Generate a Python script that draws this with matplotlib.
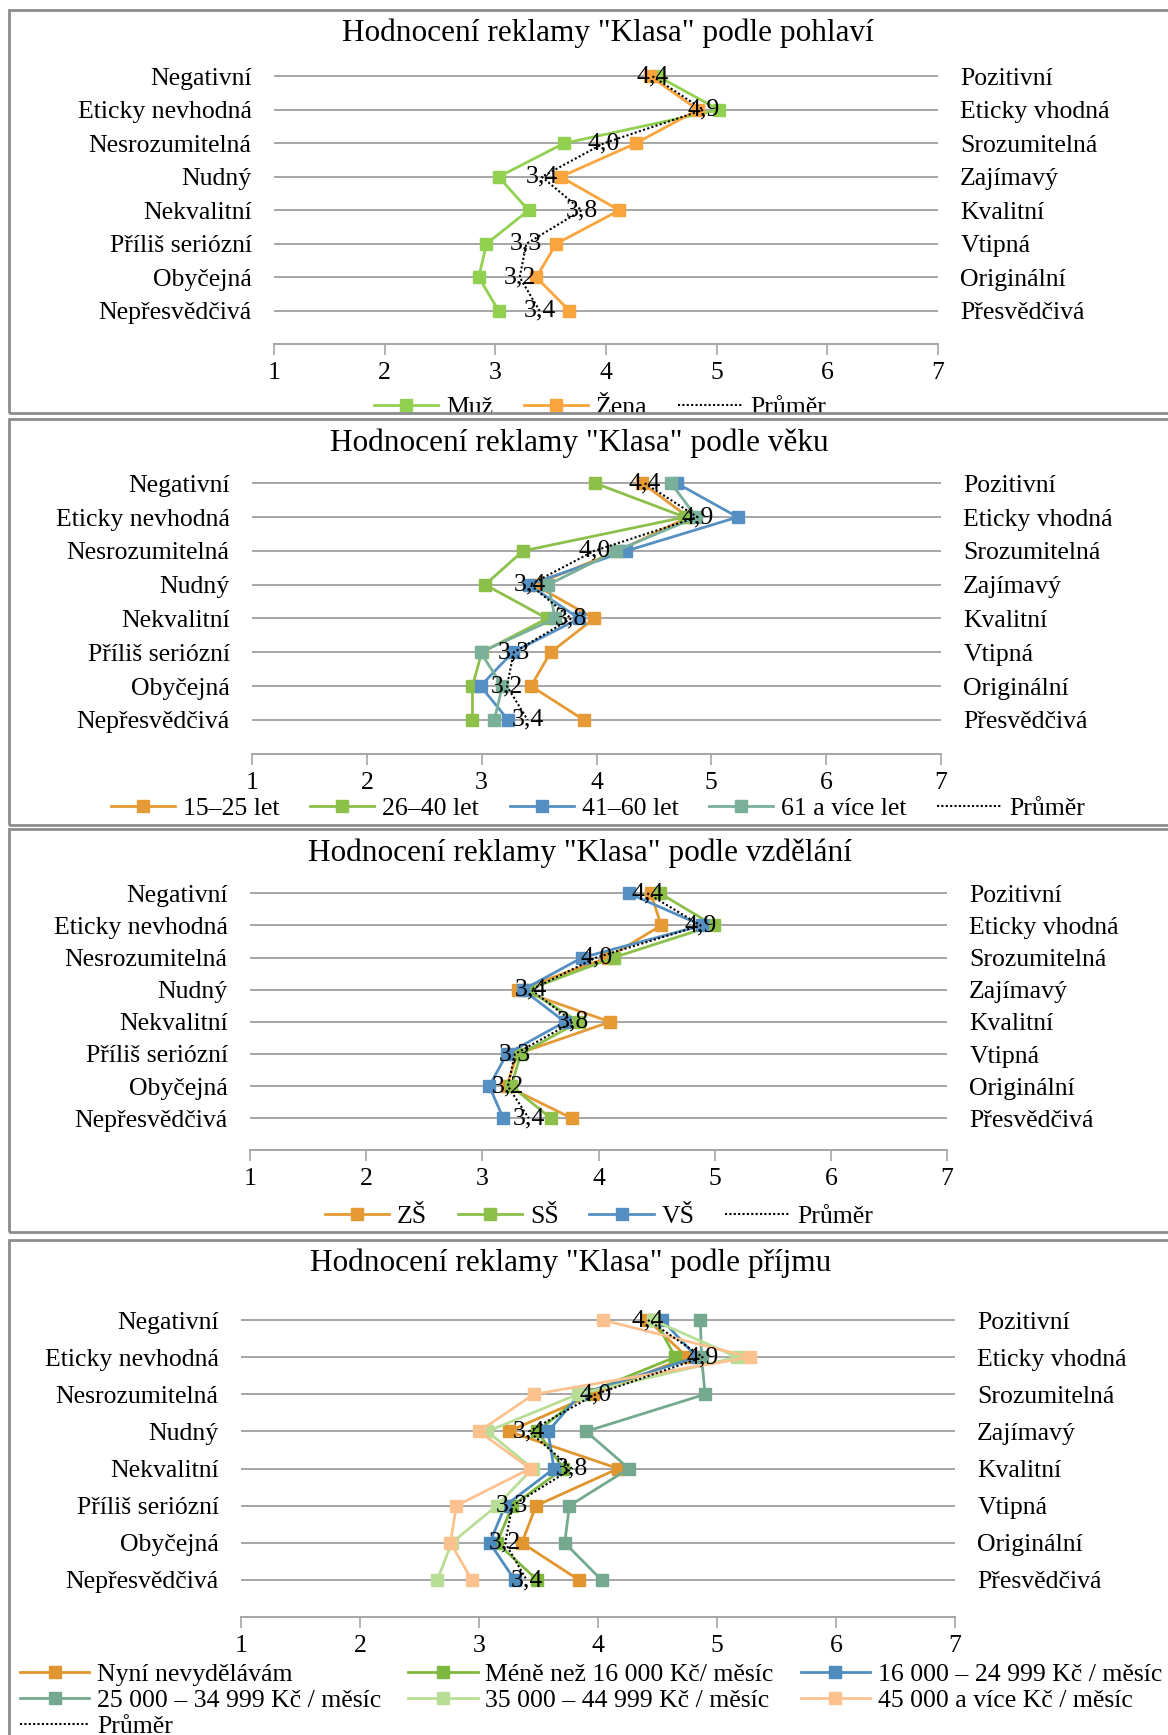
import matplotlib.pyplot as plt
from matplotlib.patches import Rectangle

# kategorie (levá a pravá strana škály)
kat_vlevo = ["Negativní", "Eticky nevhodná", "Nesrozumitelná", "Nudný",
             "Nekvalitní", "Příliš seriózní", "Obyčejná", "Nepřesvědčivá"]
kat_vpravo = ["Pozitivní", "Eticky vhodná", "Srozumitelná", "Zajímavý",
              "Kvalitní", "Vtipná", "Originální", "Přesvědčivá"]
osa_x = [1, 2, 3, 4, 5, 6, 7]

# průměr (stejný pro všechny grafy)
prumer = [4.42, 4.88, 3.98, 3.42, 3.78, 3.28, 3.22, 3.40]

# podle pohlaví
muz = [4.47, 5.02, 3.62, 3.03, 3.30, 2.92, 2.85, 3.03]
zena = [4.40, 4.83, 4.27, 3.59, 4.12, 3.55, 3.37, 3.67]

# podle věku
vek_15_25 = [4.40, 4.80, 4.19, 3.46, 3.98, 3.60, 3.43, 3.89]
vek_26_40 = [3.99, 4.77, 3.36, 3.03, 3.57, 3.00, 2.92, 2.92]
vek_41_60 = [4.70, 5.23, 4.26, 3.41, 3.85, 3.27, 2.99, 3.23]
vek_61 = [4.65, 4.87, 4.17, 3.58, 3.64, 2.99, 3.18, 3.11]

# podle vzdělání
zs = [4.45, 4.54, 4.08, 3.31, 4.10, 3.30, 3.21, 3.77]
ss = [4.53, 4.99, 4.13, 3.39, 3.83, 3.33, 3.25, 3.59]
vs = [4.26, 4.89, 3.86, 3.35, 3.71, 3.21, 3.06, 3.18]

# podle příjmu
nyni = [4.42, 4.75, 3.96, 3.25, 4.17, 3.48, 3.36, 3.84]
mene16 = [4.48, 4.65, 3.88, 3.49, 3.71, 3.28, 3.15, 3.49]
prijem_16_25 = [4.54, 4.83, 3.85, 3.58, 3.63, 3.22, 3.09, 3.30]
prijem_25_35 = [4.86, 4.87, 4.90, 3.90, 4.26, 3.76, 3.72, 4.03]
prijem_35_45 = [4.46, 5.17, 3.83, 3.07, 3.45, 3.15, 2.77, 2.65]
prijem_45 = [4.04, 5.28, 3.46, 3.00, 3.43, 2.81, 2.76, 2.94]

plt.rcParams['font.family'] = ['Liberation Serif', 'DejaVu Serif']

W, H = 1168, 1735
fig = plt.figure(figsize=(W / 100, H / 100), dpi=100)

seda = '#A6A6A6'
ramecek = '#8C8C8C'
fs = 18.5


def panel(x0, x1, y_row0, krok, titulek, tx, ty, serie, leg_xy, leg_kw, poradi=None):
    top = y_row0 - 0.5 * krok
    bot = y_row0 + 8.0 * krok
    ax = fig.add_axes([x0 / W, 1 - bot / H, (x1 - x0) / W, (bot - top) / H])
    rows = list(range(len(kat_vlevo)))
    ax.set_xlim(1, 7)
    ax.set_ylim(8.0, -0.5)
    ax.set_xticks(osa_x)
    ax.set_yticks(rows)
    ax.set_yticklabels(kat_vlevo, fontsize=fs)
    ax.set_xticklabels([str(v) for v in osa_x], fontsize=fs)
    ax.tick_params(axis='y', length=0, pad=16)
    ax.tick_params(axis='x', direction='out', length=8, width=1.2, color=seda, pad=5)
    ax.grid(axis='y', color=seda, lw=1.4)
    ax.set_axisbelow(True)
    for s in ['top', 'left', 'right']:
        ax.spines[s].set_visible(False)
    ax.spines['bottom'].set_color(seda)
    ax.spines['bottom'].set_linewidth(1.4)

    ax2 = ax.twinx()
    ax2.set_ylim(8.0, -0.5)
    ax2.set_yticks(rows)
    ax2.set_yticklabels(kat_vpravo, fontsize=fs)
    ax2.tick_params(axis='y', length=0, pad=16)
    for s in ax2.spines.values():
        s.set_visible(False)

    handles = []
    for nazev, hodnoty, barva in serie:
        h, = ax.plot(hodnoty, rows, color=barva, lw=2.0, marker='s', markersize=8,
                     markeredgecolor=barva, label=nazev, zorder=3)
        handles.append(h)
    hp, = ax.plot(prumer, rows, color='black', lw=1.5, ls=(0, (1, 1.1)),
                  label='Průměr', zorder=4)
    handles.append(hp)
    for i, v in enumerate(prumer):
        ax.text(v, i, f"{v:.1f}".replace('.', ','), ha='center', va='center',
                fontsize=fs, zorder=5)

    fig.text(tx / W, 1 - ty / H, titulek, ha='center', va='center', fontsize=22.5)

    if poradi is not None:
        handles = [handles[i] for i in poradi]
    fig.legend(handles=handles, bbox_to_anchor=(leg_xy[0] / W, 1 - leg_xy[1] / H),
               bbox_transform=fig.transFigure, frameon=False, fontsize=fs,
               borderpad=0, borderaxespad=0, handletextpad=0.3, **leg_kw)
    return ax


panel(274, 938, 76.3, 33.5, 'Hodnocení reklamy "Klasa" podle pohlaví', 608, 33,
      [("Muž", muz, '#92D050'), ("Žena", zena, '#F9A43C')],
      (600, 408), dict(loc='center', ncol=3, handlelength=2.5, columnspacing=1.2))

panel(252, 941, 483.3, 33.8, 'Hodnocení reklamy "Klasa" podle věku', 579, 443,
      [("15–25 let", vek_15_25, '#E59A35'), ("26–40 let", vek_26_40, '#8CC04B'),
       ("41–60 let", vek_41_60, '#5690C2'), ("61 a více let", vek_61, '#7AB09A')],
      (598, 809), dict(loc='center', ncol=5, handlelength=2.5, columnspacing=1.2))

panel(250, 947, 893.3, 32.14, 'Hodnocení reklamy "Klasa" podle vzdělání', 580, 853,
      [("ZŠ", zs, '#E59A35'), ("SŠ", ss, '#8CC04B'), ("VŠ", vs, '#5690C2')],
      (599, 1217), dict(loc='center', ncol=4, handlelength=2.5, columnspacing=1.2))

panel(241, 955, 1320, 37.14, 'Hodnocení reklamy "Klasa" podle příjmu', 571, 1263,
      [("Nyní nevydělávám", nyni, '#E0952E'),
       ("Méně než 16 000 Kč/ měsíc", mene16, '#7EB83F'),
       ("16 000 – 24 999 Kč / měsíc", prijem_16_25, '#4E8CBE'),
       ("25 000 – 34 999 Kč / měsíc", prijem_25_35, '#74A98F'),
       ("35 000 – 44 999 Kč / měsíc", prijem_35_45, '#B8DE95'),
       ("45 000 a více Kč / měsíc", prijem_45, '#FBC28F')],
      (20, 1663), dict(loc='upper left', ncol=3, handlelength=2.7, columnspacing=1.05,
                       labelspacing=0.12),
      poradi=[0, 3, 6, 1, 4, 2, 5])

# rámečky grafů
fig.add_artist(Rectangle((0, 1 - 419 / H), 1, 6 / H, transform=fig.transFigure,
                         fc='white', ec='none', zorder=9))
ramy = [(10, 413), (419, 825), (829, 1232), (1240, 1800)]
for y0, y1 in ramy:
    fig.add_artist(Rectangle((9 / W, 1 - y1 / H), 1.1, (y1 - y0) / H,
                             transform=fig.transFigure, fill=False, ec=ramecek,
                             lw=2, zorder=10))

fig.savefig('out.png', dpi=100)
